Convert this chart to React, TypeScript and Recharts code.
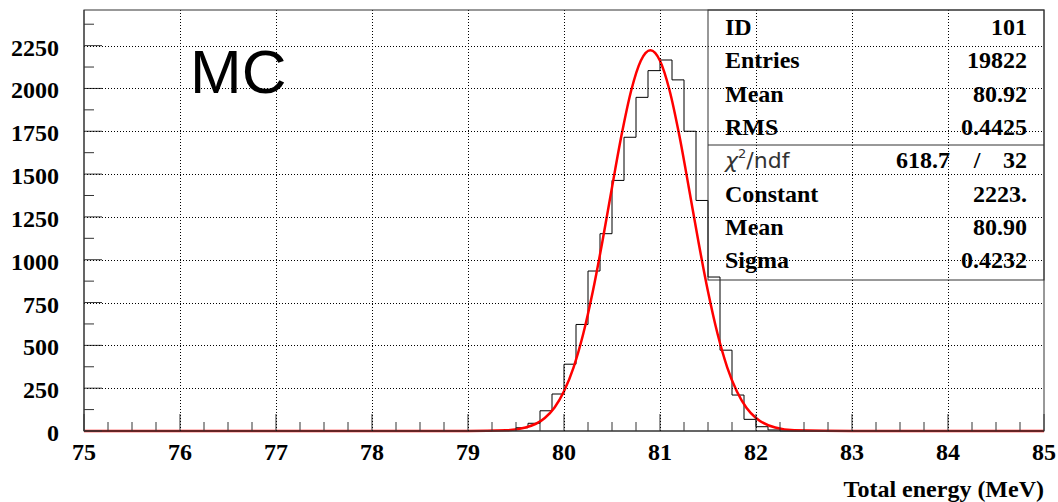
import { ComposedChart, Line, XAxis, YAxis } from "recharts";

// histogram: bin left edges (width 0.125 MeV) and counts
const binEdges = [
  75, 79.25, 79.375, 79.5, 79.625, 79.75, 79.875, 80.0, 80.125, 80.25, 80.375, 80.5,
  80.625, 80.75, 80.875, 81.0, 81.125, 81.25, 81.375, 81.5, 81.625, 81.75, 81.875,
  82.0, 82.125, 82.25, 85,
];
const binCounts = [
  0, 3, 8, 19, 45, 118, 216, 390, 622, 934, 1152, 1463,
  1715, 1948, 2104, 2166, 2050, 1750, 1346, 899, 472, 210, 68,
  25, 6, 0, 0,
];

// gaussian fit curve
const fitX = [
  75, 79.0, 79.4, 79.6, 79.8, 79.9, 80.0, 80.1, 80.2, 80.3, 80.4, 80.5, 80.6, 80.7,
  80.8, 80.9, 81.0, 81.1, 81.2, 81.3, 81.4, 81.5, 81.6, 81.7, 81.8, 81.9, 82.0,
  82.2, 82.4, 83.0, 85,
];
const fitY = [
  0, 0, 4, 20, 76, 136, 232, 372, 566, 814, 1106, 1422, 1729, 1988,
  2162, 2223, 2162, 1988, 1729, 1422, 1106, 814, 566, 372, 232, 136, 76,
  20, 4, 0, 0,
];

const xMajorTicks = [75, 76, 77, 78, 79, 80, 81, 82, 83, 84, 85];
const yMajorTicks = [0, 250, 500, 750, 1000, 1250, 1500, 1750, 2000, 2250];

const statLabels = ["ID", "Entries", "Mean", "RMS"];
const statValues = ["101", "19822", "80.92", "0.4425"];
const fitLabels = ["Constant", "Mean", "Sigma"];
const fitValues = ["2223.", "80.90", "0.4232"];
const chi2 = "618.7";
const ndf = "32";

const xTicks = xMajorTicks.slice(0, -1).flatMap((t) => [t, t + 0.25, t + 0.5, t + 0.75]).concat([85]);
const yTicks = yMajorTicks.flatMap((t) => [t, t + 125]);

const histData = binEdges.map((x, i) => ({ x, count: binCounts[i] }));
const fitData = fitX.map((x, i) => ({ x, fit: fitY[i] }));

const FONT = "'Liberation Serif', 'Times New Roman', serif";
const AXIS = "#333";

// plot box in page pixels (matches chart margins and axis sizes)
const PL = 84;
const PT = 10;
const PW = 960;
const PH = 421;
const Y_MAX = 2458;
const gx = (v: number) => Math.round(PL + ((v - 75) / 10) * PW) + 0.5;
const gy = (v: number) => Math.round(PT + PH - (v / Y_MAX) * PH) + 0.5;

function XTick(props: any) {
  const { x, y, payload } = props;
  const v = payload.value as number;
  const major = Math.abs(v - Math.round(v)) < 1e-6;
  return (
    <g>
      <line x1={x} x2={x} y1={y} y2={y - (major ? 17 : 9)} stroke={AXIS} />
      {major && (
        <text x={x} y={y + 29} textAnchor="middle" fontFamily={FONT} fontWeight="bold" fontSize={24} fill="#000">
          {v}
        </text>
      )}
    </g>
  );
}

function YTick(props: any) {
  const { x, y, payload } = props;
  const v = payload.value as number;
  const major = v % 250 === 0;
  return (
    <g>
      <line x1={x} x2={x + (major ? 18 : 10)} y1={y} y2={y} stroke={AXIS} />
      {major && (
        <text x={x - 25} y={y + 10} textAnchor="end" fontFamily={FONT} fontWeight="bold" fontSize={24} fill="#000">
          {v}
        </text>
      )}
    </g>
  );
}

export default function App() {
  const rowY = (i: number) => 35 + i * 33.3;
  return (
    <div style={{ position: "absolute", left: 0, top: 0, width: 1058, height: 502, background: "#fff" }}>
      <ComposedChart width={1058} height={502} margin={{ top: PT, right: 14, left: 0, bottom: 0 }}>
        <XAxis
          type="number"
          dataKey="x"
          domain={[75, 85]}
          ticks={xTicks}
          interval={0}
          height={71}
          tickSize={0}
          tickMargin={0}
          tick={<XTick />}
          axisLine={{ stroke: AXIS }}
        />
        <YAxis
          type="number"
          domain={[0, Y_MAX]}
          ticks={yTicks}
          interval={0}
          width={PL}
          tickSize={0}
          tickMargin={0}
          tick={<YTick />}
          axisLine={{ stroke: AXIS }}
        />
        <Line
          data={histData}
          dataKey="count"
          type="stepAfter"
          stroke="#000"
          strokeWidth={1}
          dot={false}
          isAnimationActive={false}
        />
        <Line
          data={fitData}
          dataKey="fit"
          type="monotone"
          stroke="#ff0000"
          strokeWidth={2.5}
          dot={false}
          isAnimationActive={false}
        />
      </ComposedChart>
      <svg width={1058} height={502} style={{ position: "absolute", left: 0, top: 0, pointerEvents: "none" }}>
        <g stroke="#000" strokeWidth={1} strokeDasharray="1 2" shapeRendering="crispEdges">
          {xMajorTicks.slice(1, -1).map((v) => (
            <line key={"gx" + v} x1={gx(v)} x2={gx(v)} y1={PT} y2={PT + PH} />
          ))}
          {yMajorTicks.slice(1).map((v) => (
            <line key={"gy" + v} x1={PL} x2={PL + PW} y1={gy(v)} y2={gy(v)} />
          ))}
        </g>
        <rect x={PL} y={PT} width={PW} height={PH} fill="none" stroke={AXIS} />
        <text x={190} y={93} fontFamily="'Liberation Sans', Arial, sans-serif" fontSize={62} fill="#000">
          MC
        </text>
        <rect x={708} y={10} width={336} height={270} fill="none" stroke={AXIS} />
        <line x1={708} x2={1044} y1={145} y2={145} stroke={AXIS} />
        <g fontFamily={FONT} fontWeight="bold" fontSize={24} fill="#000">
          {statLabels.map((l, i) => (
            <text key={l} x={725} y={rowY(i)}>{l}</text>
          ))}
          {statValues.map((v, i) => (
            <text key={"v" + i} x={1027} y={rowY(i)} textAnchor="end">{v}</text>
          ))}
          <text x={950} y={rowY(4)} textAnchor="end">{chi2}</text>
          <text x={977} y={rowY(4)} textAnchor="middle">/</text>
          <text x={1027} y={rowY(4)} textAnchor="end">{ndf}</text>
          {fitLabels.map((l, i) => (
            <text key={"f" + l} x={725} y={rowY(i + 5)}>{l}</text>
          ))}
          {fitValues.map((v, i) => (
            <text key={"fv" + i} x={1027} y={rowY(i + 5)} textAnchor="end">{v}</text>
          ))}
          <text x={1044} y={497} textAnchor="end">Total energy (MeV)</text>
        </g>
        <text x={725} y={rowY(4)} fontFamily="'DejaVu Sans', sans-serif" fontSize={22} fill="#333">
          <tspan fontStyle="italic">χ</tspan>
          <tspan fontSize={13} dy={-10}>2</tspan>
          <tspan dy={10}>/ndf</tspan>
        </text>
      </svg>
    </div>
  );
}
